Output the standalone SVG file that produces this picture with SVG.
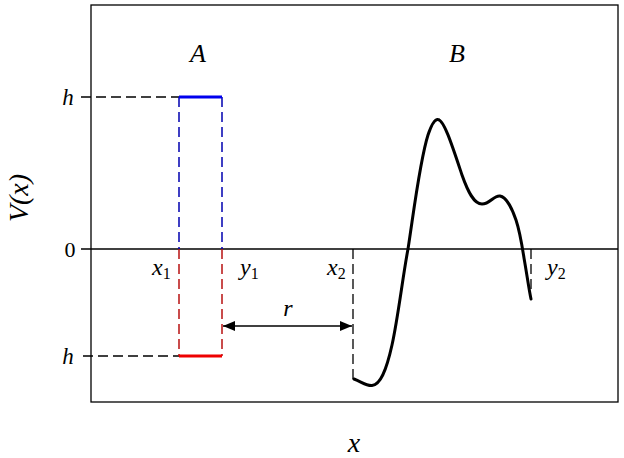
<svg xmlns="http://www.w3.org/2000/svg" width="624" height="458" viewBox="0 0 624 458">
<style>
.ax{fill:none;stroke:#000;stroke-width:1.3}
.dk{fill:none;stroke:#000;stroke-width:1.3;stroke-dasharray:10,5}
.db{fill:none;stroke:#0000b0;stroke-width:1.5;stroke-dasharray:10,5}
.dr{fill:none;stroke:#b81010;stroke-width:1.5;stroke-dasharray:10,5}
text{font-family:'Liberation Serif','DejaVu Serif',serif;fill:#000}
.t{font-style:italic}
.s{font-style:normal;font-size:16px}
</style>
<defs>
<marker id="ah" viewBox="0 0 12 10" refX="12" refY="5" markerWidth="12" markerHeight="10" markerUnits="userSpaceOnUse" orient="auto-start-reverse">
<path d="M0,0 L12,5 L0,10 z" fill="#000"/>
</marker>
</defs>
<rect x="0" y="0" width="624" height="458" fill="#fff"/>
<g id="axes">
<rect class="ax" x="91" y="5" width="527" height="397"/>
<line class="ax" x1="81" y1="249" x2="618" y2="249"/>
<text class="t" x="354" y="452" font-size="28" text-anchor="middle">x</text>
<text class="t" x="0" y="0" font-size="28" text-anchor="middle" transform="translate(28,198) rotate(-90)">V(x)</text>
<text class="t" x="68" y="105" font-size="23" text-anchor="middle">h</text>
<text x="70" y="257" font-size="22" text-anchor="middle">0</text>
<text class="t" x="68" y="364" font-size="23" text-anchor="middle">h</text>
</g>
<g id="A">
<text class="t" x="198" y="62" font-size="26" text-anchor="middle">A</text>
<line class="dk" x1="81" y1="97" x2="179" y2="97"/>
<line class="dk" x1="83" y1="356" x2="179" y2="356"/>
<line class="db" x1="179" y1="97" x2="179" y2="249"/>
<line class="db" x1="222" y1="97" x2="222" y2="249"/>
<line class="dr" x1="179" y1="249" x2="179" y2="356"/>
<line class="dr" x1="222" y1="249" x2="222" y2="356"/>
<line x1="179" y1="97" x2="222" y2="97" stroke="#0000ee" stroke-width="3"/>
<line x1="179" y1="356" x2="222" y2="356" stroke="#ee0000" stroke-width="3"/>
<text class="t" x="152" y="275" font-size="24">x<tspan class="s" dy="4">1</tspan></text>
<text class="t" x="240" y="275" font-size="24">y<tspan class="s" dy="4">1</tspan></text>
</g>
<g id="B">
<text class="t" x="457" y="62" font-size="26" text-anchor="middle">B</text>
<line class="dk" x1="353" y1="249" x2="353" y2="380"/>
<line class="dk" x1="531" y1="249" x2="531" y2="292"/>
<path fill="none" stroke="#000" stroke-width="3" stroke-linejoin="round" stroke-linecap="round" d="M354,379 C362,382 366,386 372,385.5 C380,385 386,372 392,345 C398,318 403,275 408,249 C414,210 420,160 428,135 C432,123 435,119 438,119.5 C444,120 452,145 462,175 C468,192 474,204 482,204 C490,204 494,195 500,196 C506,197 512,208 516,220 C520,232 522,245 524,258 C527,275 529,290 531,299"/>
<text class="t" x="327" y="275" font-size="24">x<tspan class="s" dy="4">2</tspan></text>
<text class="t" x="547" y="275" font-size="24">y<tspan class="s" dy="4">2</tspan></text>
</g>
<g id="connectors">
<line x1="223" y1="326" x2="352" y2="326" stroke="#000" stroke-width="1.3" marker-start="url(#ah)" marker-end="url(#ah)"/>
<text class="t" x="288" y="316" font-size="24" text-anchor="middle">r</text>
</g>
</svg>
